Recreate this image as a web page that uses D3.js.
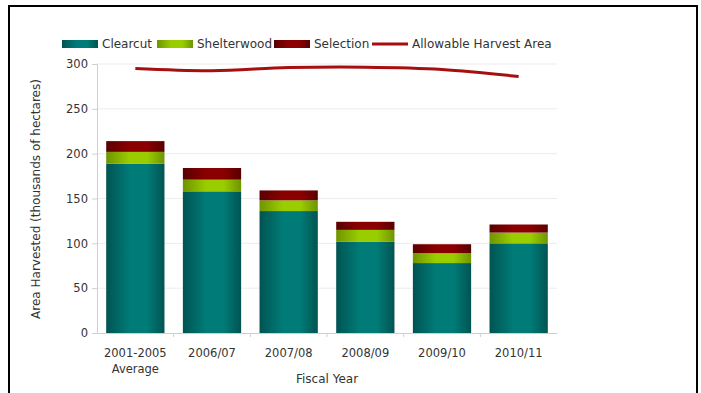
<!DOCTYPE html>
<meta charset="utf-8">
<script src="https://cdn.jsdelivr.net/npm/d3@7"></script>
<style>
  body { margin: 0; background: #fff; }
  text { font-family: "DejaVu Sans", sans-serif; fill: #333; }
</style>
<body>
<script>

var width = 701
var height = 393

// data
var years = ["2001-2005|Average", "2006/07", "2007/08", "2008/09", "2009/10", "2010/11"]
var clearcut = [189, 158, 136, 102, 78, 100]
var shelterwood = [13, 13, 12, 13, 11, 12]
var selection = [12, 13, 11, 9, 10, 9]
var allowable = [295, 292.5, 296, 296.5, 294, 286]
var yTicks = [0, 50, 100, 150, 200, 250, 300]

var series = [
  { name: "Clearcut", values: clearcut, c: "#007b77", edge: "#005452" },
  { name: "Shelterwood", values: shelterwood, c: "#9acd00", edge: "#6f9400" },
  { name: "Selection", values: selection, c: "#8a0000", edge: "#5a0000" }
]

var fs = 11.5   // tick labels
var fl = 12     // legend and titles

var x = d3.scaleBand().domain(years).range([97, 557]).paddingInner(0.24).paddingOuter(0.12)
var y = d3.scaleLinear().domain([0, 300]).range([333, 64])

var svg = d3.select("body").append("svg")
            .attr("width", width)
            .attr("height", height)

var defs = svg.append("defs")
series.forEach(function(s, i) {
  var g = defs.append("linearGradient").attr("id", "g" + i).attr("x1", "0").attr("x2", "1").attr("y1", "0").attr("y2", "0")
  g.append("stop").attr("offset", "0%").attr("stop-color", s.edge)
  g.append("stop").attr("offset", "40%").attr("stop-color", s.c)
  g.append("stop").attr("offset", "70%").attr("stop-color", s.c)
  g.append("stop").attr("offset", "100%").attr("stop-color", s.edge)
})

// frame
svg.append("rect").attr("x", 9).attr("y", 6).attr("width", 688).attr("height", 420)
   .attr("fill", "none").attr("stroke", "#000").attr("stroke-width", 2)

// gridlines
svg.append("g").selectAll("line").data(yTicks.slice(1)).join("line")
   .attr("x1", 97).attr("x2", 557).attr("y1", d => y(d)).attr("y2", d => y(d))
   .attr("stroke", "#ececec")

// y axis
var yAxis = svg.append("g").attr("transform", "translate(97,0)")
   .call(d3.axisLeft(y).tickValues(yTicks).tickSize(5).tickPadding(4))
yAxis.select(".domain").attr("stroke", "#cfcfcf")
yAxis.selectAll(".tick line").attr("stroke", "#cfcfcf")
yAxis.selectAll(".tick text").attr("font-size", fs).attr("font-family", "DejaVu Sans").attr("fill", "#333")

// x axis
var xAxis = svg.append("g").attr("transform", "translate(0,333)")
   .call(d3.axisBottom(x).tickSize(0).tickPadding(0).tickFormat(""))
xAxis.select(".domain").attr("stroke", "#cfcfcf")
var bounds = years.map(d => x(d) - x.step() * x.paddingInner() / 2).slice(1)
xAxis.append("g").selectAll("line").data(bounds).join("line")
   .attr("x1", d => d).attr("x2", d => d).attr("y1", 0).attr("y2", 4).attr("stroke", "#cfcfcf")

var labels = svg.append("g").selectAll("text").data(years).join("text")
   .attr("x", d => x(d) + x.bandwidth() / 2)
   .attr("y", 357)
   .attr("text-anchor", "middle")
   .attr("font-size", fs)
labels.each(function(d) {
  var parts = d.split("|")
  var t = d3.select(this)
  parts.forEach(function(p, i) {
    t.append("tspan").attr("x", x(d) + x.bandwidth() / 2).attr("dy", i ? 16 : 0).text(p)
  })
})

// stacked bars
var stack = years.map(() => 0)
series.forEach(function(s, i) {
  svg.append("g").selectAll("rect").data(s.values).join("rect")
     .attr("x", (d, j) => x(years[j]))
     .attr("width", x.bandwidth())
     .attr("y", (d, j) => y(stack[j] + d))
     .attr("height", (d, j) => y(stack[j]) - y(stack[j] + d))
     .attr("fill", "url(#g" + i + ")")
  s.values.forEach((d, j) => stack[j] += d)
})

// allowable harvest line
var line = d3.line().x((d, j) => x(years[j]) + x.bandwidth() / 2).y(d => y(d)).curve(d3.curveCatmullRom)
svg.append("path").attr("d", line(allowable))
   .attr("fill", "none").attr("stroke", "#a50f0f").attr("stroke-width", 3)

// axis titles
svg.append("text")
   .attr("transform", "translate(40," + 199 + ") rotate(-90)")
   .attr("text-anchor", "middle")
   .attr("font-size", fl)
   .text("Area Harvested (thousands of hectares)")

svg.append("text")
   .attr("x", 327).attr("y", 383)
   .attr("text-anchor", "middle")
   .attr("font-size", fl)
   .text("Fiscal Year")

// legend
var legend = svg.append("g").attr("transform", "translate(62,44)")
var lx = [0, 95, 212, 310]
series.forEach(function(s, i) {
  legend.append("rect").attr("x", lx[i]).attr("y", -4).attr("width", 36).attr("height", 8).attr("fill", "url(#g" + i + ")")
  legend.append("text").attr("x", lx[i] + 40).attr("y", 4).attr("font-size", fl).text(s.name)
})
legend.append("line").attr("x1", lx[3]).attr("x2", lx[3] + 36).attr("y1", 0).attr("y2", 0)
   .attr("stroke", "#a50f0f").attr("stroke-width", 3)
legend.append("text").attr("x", lx[3] + 40).attr("y", 4).attr("font-size", fl).text("Allowable Harvest Area")

</script>
</body>
